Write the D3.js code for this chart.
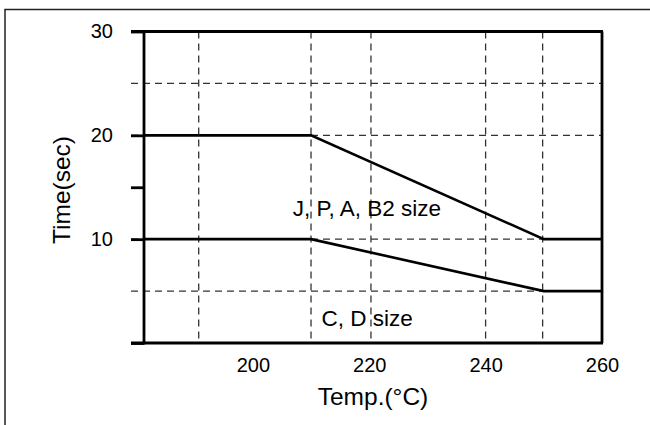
<!DOCTYPE html>
<html lang="en">
<head>
<meta charset="UTF-8">
<title>Time vs Temp</title>
<script src="https://d3js.org/d3.v7.min.js"></script>
<style>
    body { margin: 0; background: #fff; }
    svg { font-family: "Liberation Sans", Arial, sans-serif; }
    .grid { stroke: #333; stroke-width: 1.3; stroke-dasharray: 7,5; }
    .curve { fill: none; stroke: #000; stroke-width: 2.6; }
    .frame { stroke: #000; stroke-width: 2.8; }
</style>
</head>
<body>
<svg width="650" height="425"></svg>
<script>
    const xDomain = [181.3, 260];
    const yDomain = [0, 30];
    const xTicks = [200, 220, 240, 260];
    const yTicks = [0, 10, 15, 20, 30];
    const xGrid = [190.7, 210, 220.3, 240, 249.8];
    const yGrid = [5, 10, 20, 25];

    const temps = [181.3, 210, 250, 260];
    const upperTimes = [20, 20, 10, 10];   // J, P, A, B2 size
    const lowerTimes = [10, 10, 5, 5];     // C, D size

    const labels = ["J, P, A, B2 size", "C, D size"];
    const labelX = [206.85, 211.8];
    const labelY = [12.2, 1.63];

    const margin = {top: 31.5, right: 48, bottom: 82, left: 144};
    const width = 650 - margin.left - margin.right;
    const height = 425 - margin.top - margin.bottom;

    const svg = d3.select("svg");

    // outer frame (runs off right and bottom edges)
    svg.append("rect")
        .attr("x", 5).attr("y", 9.5)
        .attr("width", 700).attr("height", 500)
        .attr("fill", "none")
        .attr("stroke", "#222")
        .attr("stroke-width", 1.5);

    const g = svg.append("g")
        .attr("transform", "translate(" + margin.left + "," + margin.top + ")");

    const x = d3.scaleLinear().domain(xDomain).range([0, width]);
    const y = d3.scaleLinear().domain(yDomain).range([height, 0]);

    // dashed grid
    g.selectAll(".vgrid")
        .data(xGrid)
        .enter().append("line")
        .attr("class", "grid")
        .attr("x1", d => x(d)).attr("x2", d => x(d))
        .attr("y1", 0).attr("y2", height);

    g.selectAll(".hgrid")
        .data(yGrid)
        .enter().append("line")
        .attr("class", "grid")
        .attr("x1", -13).attr("x2", width)
        .attr("y1", d => y(d)).attr("y2", d => y(d));

    // curves
    const line = d3.line()
        .x((d, i) => x(temps[i]))
        .y(d => y(d));

    g.append("path").attr("class", "curve").attr("d", line(upperTimes));
    g.append("path").attr("class", "curve").attr("d", line(lowerTimes));

    // frame: top, right
    g.append("line").attr("class", "frame")
        .attr("x1", -13).attr("x2", width + 1).attr("y1", 0).attr("y2", 0);
    g.append("line").attr("class", "frame")
        .attr("x1", width).attr("x2", width).attr("y1", 0).attr("y2", height);

    const yAxis = g.append("g")
        .call(d3.axisLeft(y).tickValues(yTicks).tickSize(13).tickPadding(18)
            .tickFormat(d => (d % 10 === 0 && d > 0) ? d : ""));
    yAxis.select(".domain").remove();
    yAxis.selectAll(".tick line").attr("stroke", "#000").attr("stroke-width", 2.8);
    yAxis.selectAll("text").attr("font-size", 20).attr("fill", "#000");

    // frame: bottom, left
    g.append("line").attr("class", "frame")
        .attr("x1", -13).attr("x2", width + 1).attr("y1", height).attr("y2", height);
    g.append("line").attr("class", "frame")
        .attr("x1", 0).attr("x2", 0).attr("y1", -1.4).attr("y2", height + 1.4);

    const xAxis = g.append("g")
        .attr("transform", "translate(0," + height + ")")
        .call(d3.axisBottom(x).tickValues(xTicks).tickSize(0).tickPadding(15));
    xAxis.select(".domain").remove();
    xAxis.selectAll("text").attr("font-size", 20).attr("fill", "#000");

    // series labels
    g.selectAll(".lbl")
        .data(labels)
        .enter().append("text")
        .attr("x", (d, i) => x(labelX[i]))
        .attr("y", (d, i) => y(labelY[i]))
        .attr("font-size", 22.5)
        .text(d => d);

    // axis titles
    svg.append("text")
        .attr("x", margin.left + width / 2)
        .attr("y", 405)
        .attr("text-anchor", "middle")
        .attr("font-size", 24.5)
        .text("Temp.(°C)");

    svg.append("text")
        .attr("transform", "translate(70,190) rotate(-90)")
        .attr("text-anchor", "middle")
        .attr("font-size", 24.5)
        .text("Time(sec)");
</script>
</body>
</html>
